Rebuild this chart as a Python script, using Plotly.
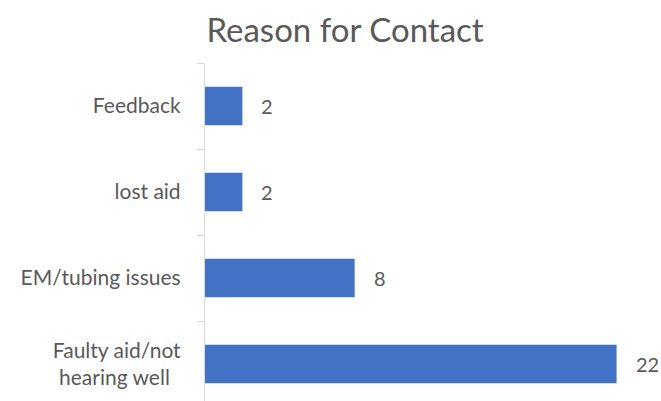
import plotly.graph_objects as go

categories = ["Faulty aid/not<br>hearing well\u00a0\u00a0", "EM/tubing issues", "lost aid", "Feedback"]
values = [22, 8, 2, 2]
value_labels = ["22", "8", "2", "2"]

font_family = "Lato, 'Open Sans', sans-serif"
text_color = "#595959"

fig = go.Figure()
fig.add_trace(go.Bar(
    y=categories,
    x=values,
    orientation="h",
    marker=dict(color="#4472C4", line=dict(width=0)),
    hoverinfo="skip",
))

for cat, v, lab in zip(categories, values, value_labels):
    fig.add_annotation(
        x=v, y=cat, text=lab, showarrow=False,
        xanchor="left", yanchor="middle", xshift=17,
        font=dict(family=font_family, size=20, color=text_color),
    )

fig.update_layout(
    width=661, height=401,
    margin=dict(l=205, r=7, t=63, b=0),
    paper_bgcolor="white", plot_bgcolor="white",
    bargap=0.55,
    showlegend=False,
    title=dict(
        text="Reason for Contact",
        x=0.522, xanchor="center",
        y=0.925, yanchor="middle",
        font=dict(family=font_family, size=33, color=text_color),
    ),
    xaxis=dict(
        range=[0, 24], showgrid=False, showticklabels=False,
        zeroline=False, showline=False, ticks="",
    ),
    yaxis=dict(
        type="category",
        categoryorder="array", categoryarray=categories,
        range=[-0.43, 3.5],
        showline=True, linecolor="#d9d9d9", linewidth=1.3,
        ticks="outside", ticklen=7, tickcolor="#d9d9d9", tickwidth=1.3,
        tickson="boundaries",
        ticklabelstandoff=19,
        showgrid=False, zeroline=False,
        tickfont=dict(family=font_family, size=21, color=text_color),
    ),
)

fig.write_html("out.html")
